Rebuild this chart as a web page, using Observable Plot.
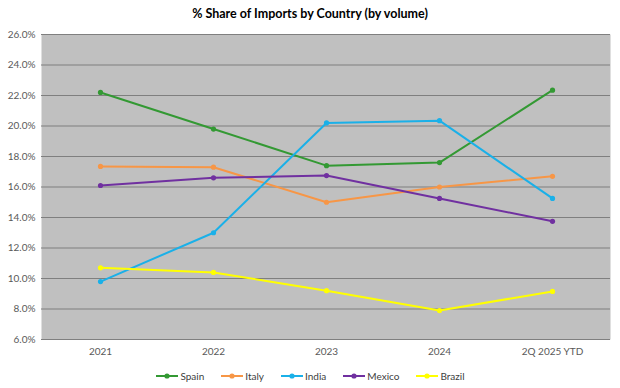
<!DOCTYPE html>
<html><head><meta charset="utf-8">
<script src="https://cdn.jsdelivr.net/npm/d3@7"></script>
<script src="https://cdn.jsdelivr.net/npm/@observablehq/plot@0.6"></script>
<style>
body{margin:0;background:#fff;font-family:Lato,"Open Sans",sans-serif;}
#wrap{width:620px;}
#title{height:24px;line-height:28px;text-align:center;font-weight:bold;font-size:12.5px;color:#000;}
#legend{height:24px;line-height:20px;display:flex;justify-content:center;align-items:center;gap:16px;font-size:10px;color:#404040;}
#legend span{display:flex;align-items:center;gap:1px;}
</style></head>
<body><div id="wrap"><div id="title">% Share of Imports by Country (by volume)</div><div id="chart"></div><div id="legend"></div></div>
<script>
const periods = ["2021","2022","2023","2024","2Q 2025 YTD"];
const countries = ["Spain","Italy","India","Mexico","Brazil"];
const colors = ["#339933","#f79646","#1ab0e8","#7030a0","#ffff00"];
const spain  = [22.2, 19.8, 17.4, 17.6, 22.35];
const italy  = [17.35, 17.3, 15.0, 16.0, 16.7];
const india  = [9.8, 13.0, 20.2, 20.35, 15.25];
const mexico = [16.1, 16.6, 16.75, 15.25, 13.75];
const brazil = [10.7, 10.4, 9.2, 7.9, 9.15];
const yTicks = [6,8,10,12,14,16,18,20,22,24,26];

const series = [spain, italy, india, mexico, brazil];
const data = [];
countries.forEach((c,i)=>periods.forEach((p,j)=>data.push({country:c, period:p, value:series[i][j]})));

const chart = Plot.plot({
  width:620, height:340,
  marginTop:10, marginBottom:25, marginLeft:41, marginRight:10,
  style:{fontFamily:"Lato, 'Open Sans', sans-serif", fontSize:"10px", color:"#595959", background:"#fff"},
  x:{type:"point", domain:periods, padding:0.5, label:null},
  y:{domain:[6,26], ticks:yTicks, label:null, tickFormat:d=>d.toFixed(1)+"%"},
  color:{domain:countries, range:colors},
  marks:[
    Plot.frame({fill:"#c0c0c0", stroke:null}),
    Plot.gridY(yTicks, {stroke:"#7f7f7f", strokeOpacity:1, strokeWidth:1}),
    Plot.axisY({ticks:yTicks, tickSize:0, tickPadding:6, tickFormat:d=>d.toFixed(1)+"%", fill:"#595959"}),
    Plot.axisX({tickSize:0, tickPadding:8, fill:"#595959"}),
    Plot.line(data, {x:"period", y:"value", z:"country", stroke:"country", strokeWidth:2}),
    Plot.dot(data, {x:"period", y:"value", fill:"country", r:2.6})
  ]
});
document.getElementById("chart").appendChild(chart);

const leg = document.getElementById("legend");
countries.forEach((c,i)=>{
  const s=document.createElement("span");
  s.innerHTML=`<svg width="24" height="8"><line x1="1" y1="4" x2="23" y2="4" stroke="${colors[i]}" stroke-width="2"/><circle cx="12" cy="4" r="2.6" fill="${colors[i]}"/></svg>${c}`;
  leg.appendChild(s);
});
</script></body></html>
